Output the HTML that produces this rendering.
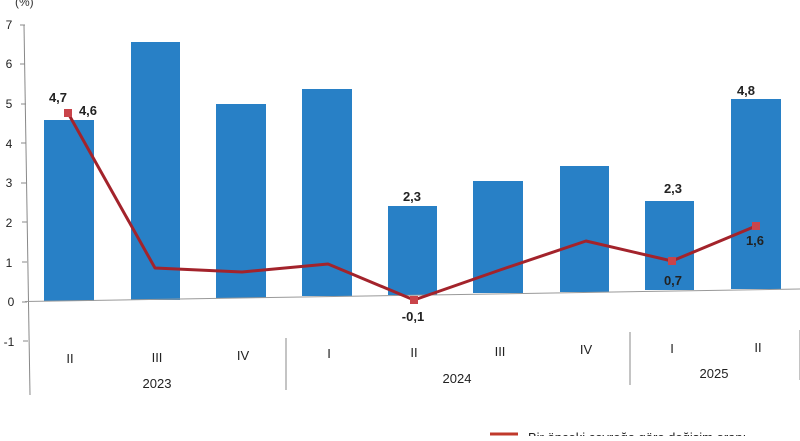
<!DOCTYPE html>
<html><head><meta charset="utf-8"><style>
html,body{margin:0;padding:0;background:#fff;}
body{width:800px;height:436px;overflow:hidden;position:relative;}
svg text{font-family:"Liberation Sans",sans-serif;}
</style></head><body>
<svg width="800" height="436" viewBox="0 0 800 436" xmlns="http://www.w3.org/2000/svg">
<rect width="800" height="436" fill="#fff"/>
<text x="15" y="6" font-size="12" fill="#333">(%)</text>
<line x1="24" y1="25" x2="30" y2="395" stroke="#888" stroke-width="1"/>
<g font-size="12" fill="#222" text-anchor="middle">
<text x="9" y="29">7</text><text x="9" y="68">6</text><text x="9" y="108">5</text>
<text x="9" y="148">4</text><text x="9" y="187">3</text><text x="9" y="227">2</text>
<text x="9" y="267">1</text><text x="11" y="306">0</text><text x="9" y="346">-1</text>
</g>
<g stroke="#888"><line x1="20" y1="25" x2="25" y2="25"/><line x1="20" y1="64" x2="25" y2="64"/><line x1="21" y1="104" x2="26" y2="104"/><line x1="21" y1="143" x2="26" y2="143"/><line x1="21" y1="183" x2="26" y2="183"/><line x1="22" y1="222" x2="27" y2="222"/><line x1="22" y1="262" x2="27" y2="262"/><line x1="22" y1="302" x2="27" y2="302"/><line x1="23" y1="341" x2="28" y2="341"/></g>
<g fill="#2880c6">
<rect x="44" y="120" width="50" height="181"/>
<rect x="131" y="42" width="49" height="258"/>
<rect x="216" y="104" width="50" height="194"/>
<rect x="302" y="89" width="50" height="207"/>
<rect x="388" y="206" width="49" height="89"/>
<rect x="473" y="181" width="50" height="112"/>
<rect x="560" y="166" width="49" height="126"/>
<rect x="645" y="201" width="49" height="89"/>
<rect x="731" y="99" width="50" height="190"/>
</g>
<line x1="25" y1="301.5" x2="800" y2="289" stroke="#999" stroke-width="1"/>
<polyline points="68,113 155,268 242,272 328,264 414,300 500,270 586,241 672,261 756,226" fill="none" stroke="#a3232b" stroke-width="3" stroke-linejoin="round"/>
<g fill="#c9444a"><rect x="64" y="109" width="8" height="8"/><rect x="410" y="296" width="8" height="8"/><rect x="668" y="257" width="8" height="8"/><rect x="752" y="222" width="8" height="8"/></g>
<g font-size="13" font-weight="bold" fill="#222" text-anchor="middle">
<text x="58" y="102">4,7</text><text x="88" y="115">4,6</text>
<text x="412" y="201">2,3</text><text x="413" y="321">-0,1</text>
<text x="673" y="193">2,3</text><text x="673" y="285">0,7</text>
<text x="755" y="245">1,6</text><text x="746" y="95">4,8</text>
</g>
<g font-size="13" fill="#222" text-anchor="middle">
<text x="70" y="363">II</text><text x="157" y="362">III</text><text x="243" y="360">IV</text>
<text x="329" y="358">I</text><text x="414" y="357">II</text><text x="500" y="356">III</text>
<text x="586" y="354">IV</text><text x="672" y="353">I</text><text x="758" y="352">II</text>
<text x="157" y="388">2023</text><text x="457" y="383">2024</text><text x="714" y="378">2025</text>
</g>
<g stroke="#888"><line x1="286" y1="338" x2="286" y2="390"/><line x1="630" y1="332" x2="630" y2="385"/><line x1="800" y1="330" x2="800" y2="380"/></g>
<line x1="490" y1="434" x2="518" y2="434" stroke="#c0392b" stroke-width="3"/>
<text x="528" y="442" font-size="13" fill="#222">Bir önceki çeyreğe göre değişim oranı</text>
</svg>
</body></html>
